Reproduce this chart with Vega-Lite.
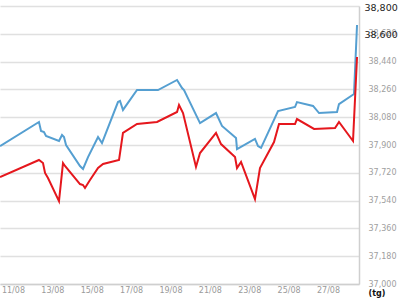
{
  "$schema": "https://vega.github.io/schema/vega-lite/v6.json",
  "width": 359,
  "height": 278,
  "autosize": {"type": "none"},
  "padding": {"left": 0, "top": 6, "right": 41, "bottom": 16},
  "background": "white",
  "config": {
    "view": {"stroke": null},
    "font": "DejaVu Sans",
    "axis": {"labelFont": "DejaVu Sans", "labelFontSize": 8}
  },
  "datasets": {
    "prices": [
      {"t": "2013-08-10T08:12", "series": "A", "v": 37893},
      {"t": "2013-08-12T07:42", "series": "A", "v": 38049},
      {"t": "2013-08-12T10:12", "series": "A", "v": 37991},
      {"t": "2013-08-12T13:48", "series": "A", "v": 37984},
      {"t": "2013-08-12T16:18", "series": "A", "v": 37958},
      {"t": "2013-08-13T08:06", "series": "A", "v": 37926},
      {"t": "2013-08-13T11:48", "series": "A", "v": 37965},
      {"t": "2013-08-13T14:12", "series": "A", "v": 37952},
      {"t": "2013-08-13T16:42", "series": "A", "v": 37900},
      {"t": "2013-08-14T09:42", "series": "A", "v": 37764},
      {"t": "2013-08-14T13:24", "series": "A", "v": 37745},
      {"t": "2013-08-14T19:30", "series": "A", "v": 37822},
      {"t": "2013-08-15T07:42", "series": "A", "v": 37952},
      {"t": "2013-08-15T12:30", "series": "A", "v": 37913},
      {"t": "2013-08-16T08:00", "series": "A", "v": 38178},
      {"t": "2013-08-16T10:30", "series": "A", "v": 38185},
      {"t": "2013-08-16T14:06", "series": "A", "v": 38127},
      {"t": "2013-08-17T07:12", "series": "A", "v": 38256},
      {"t": "2013-08-18T08:48", "series": "A", "v": 38256},
      {"t": "2013-08-19T08:00", "series": "A", "v": 38321},
      {"t": "2013-08-19T14:06", "series": "A", "v": 38269},
      {"t": "2013-08-19T16:30", "series": "A", "v": 38256},
      {"t": "2013-08-20T12:00", "series": "A", "v": 38042},
      {"t": "2013-08-21T07:30", "series": "A", "v": 38107},
      {"t": "2013-08-21T14:48", "series": "A", "v": 38023},
      {"t": "2013-08-22T07:54", "series": "A", "v": 37945},
      {"t": "2013-08-22T09:06", "series": "A", "v": 37874},
      {"t": "2013-08-23T07:00", "series": "A", "v": 37939},
      {"t": "2013-08-23T10:42", "series": "A", "v": 37893},
      {"t": "2013-08-23T14:24", "series": "A", "v": 37881},
      {"t": "2013-08-24T11:06", "series": "A", "v": 38120},
      {"t": "2013-08-25T07:48", "series": "A", "v": 38146},
      {"t": "2013-08-25T10:12", "series": "A", "v": 38178},
      {"t": "2013-08-26T05:48", "series": "A", "v": 38153},
      {"t": "2013-08-26T13:06", "series": "A", "v": 38107},
      {"t": "2013-08-27T11:00", "series": "A", "v": 38114},
      {"t": "2013-08-27T13:24", "series": "A", "v": 38165},
      {"t": "2013-08-28T07:42", "series": "A", "v": 38230},
      {"t": "2013-08-28T11:24", "series": "A", "v": 38677},
      {"t": "2013-08-10T08:12", "series": "B", "v": 37693},
      {"t": "2013-08-12T07:42", "series": "B", "v": 37803},
      {"t": "2013-08-12T12:36", "series": "B", "v": 37783},
      {"t": "2013-08-12T15:06", "series": "B", "v": 37719},
      {"t": "2013-08-12T18:42", "series": "B", "v": 37686},
      {"t": "2013-08-13T08:06", "series": "B", "v": 37537},
      {"t": "2013-08-13T13:00", "series": "B", "v": 37783},
      {"t": "2013-08-13T15:24", "series": "B", "v": 37764},
      {"t": "2013-08-14T09:42", "series": "B", "v": 37647},
      {"t": "2013-08-14T13:24", "series": "B", "v": 37641},
      {"t": "2013-08-14T15:48", "series": "B", "v": 37622},
      {"t": "2013-08-14T21:54", "series": "B", "v": 37673},
      {"t": "2013-08-15T07:42", "series": "B", "v": 37751},
      {"t": "2013-08-15T13:48", "series": "B", "v": 37777},
      {"t": "2013-08-16T09:18", "series": "B", "v": 37803},
      {"t": "2013-08-16T14:06", "series": "B", "v": 37978},
      {"t": "2013-08-17T07:12", "series": "B", "v": 38036},
      {"t": "2013-08-18T07:36", "series": "B", "v": 38049},
      {"t": "2013-08-19T08:00", "series": "B", "v": 38114},
      {"t": "2013-08-19T10:24", "series": "B", "v": 38159},
      {"t": "2013-08-19T15:18", "series": "B", "v": 38107},
      {"t": "2013-08-20T07:06", "series": "B", "v": 37758},
      {"t": "2013-08-20T12:00", "series": "B", "v": 37848},
      {"t": "2013-08-21T07:30", "series": "B", "v": 37978},
      {"t": "2013-08-21T13:36", "series": "B", "v": 37906},
      {"t": "2013-08-22T06:42", "series": "B", "v": 37822},
      {"t": "2013-08-22T09:06", "series": "B", "v": 37751},
      {"t": "2013-08-22T14:00", "series": "B", "v": 37790},
      {"t": "2013-08-23T07:00", "series": "B", "v": 37550},
      {"t": "2013-08-23T13:06", "series": "B", "v": 37751},
      {"t": "2013-08-24T06:12", "series": "B", "v": 37919},
      {"t": "2013-08-24T12:18", "series": "B", "v": 38036},
      {"t": "2013-08-25T07:48", "series": "B", "v": 38036},
      {"t": "2013-08-25T10:12", "series": "B", "v": 38068},
      {"t": "2013-08-26T07:00", "series": "B", "v": 38004},
      {"t": "2013-08-27T08:36", "series": "B", "v": 38010},
      {"t": "2013-08-27T13:24", "series": "B", "v": 38049},
      {"t": "2013-08-28T06:30", "series": "B", "v": 37926},
      {"t": "2013-08-28T11:24", "series": "B", "v": 38470}
    ]
  },
  "data": {"name": "prices"},
  "encoding": {
    "x": {
      "field": "t",
      "type": "temporal",
      "scale": {
        "domain": [
          {"year": 2013, "month": 8, "date": 10, "hours": 8, "minutes": 12},
          {"year": 2013, "month": 8, "date": 28, "hours": 13, "minutes": 48}
        ]
      },
      "axis": {
        "title": null,
        "format": "%d/%m",
        "values": [
          {"year": 2013, "month": 8, "date": 11},
          {"year": 2013, "month": 8, "date": 13},
          {"year": 2013, "month": 8, "date": 15},
          {"year": 2013, "month": 8, "date": 17},
          {"year": 2013, "month": 8, "date": 19},
          {"year": 2013, "month": 8, "date": 21},
          {"year": 2013, "month": 8, "date": 23},
          {"year": 2013, "month": 8, "date": 25},
          {"year": 2013, "month": 8, "date": 27}
        ],
        "grid": false,
        "ticks": false,
        "labelPadding": 2,
        "labelColor": "#9a9a9a",
        "labelFontSize": 8,
        "domain": true,
        "domainColor": "#cfcfcf",
        "domainWidth": 1.5
      }
    },
    "color": {
      "field": "series",
      "type": "nominal",
      "scale": {"domain": ["A", "B"], "range": ["#559fd1", "#e5171d"]},
      "legend": null
    }
  },
  "layer": [
    {
      "transform": [{"filter": "datum.series === 'A'"}],
      "mark": {"type": "line", "strokeWidth": 2},
      "encoding": {
        "y": {
          "field": "v",
          "type": "quantitative",
          "scale": {"domain": [37000, 38800], "nice": false, "zero": false},
          "axis": {
            "orient": "right",
            "title": null,
            "values": [37000, 37180, 37360, 37540, 37720, 37900, 38080, 38260, 38440, 38620, 38800],
            "labelExpr": "datum.value == 38800 ? '' : format(datum.value, ',')",
            "grid": true,
            "gridColor": "#e0e0e0",
            "gridWidth": 1.5,
            "ticks": false,
            "labelPadding": 9,
            "labelColor": "#a0a0a0",
            "labelFontSize": 8,
            "labelBaseline": "middle",
            "domain": true,
            "domainColor": "#cfcfcf",
            "domainWidth": 1.5
          }
        }
      }
    },
    {
      "transform": [{"filter": "datum.series === 'B'"}],
      "mark": {"type": "line", "strokeWidth": 2},
      "encoding": {
        "y": {
          "field": "v",
          "type": "quantitative",
          "scale": {"domain": [37000, 38800], "nice": false, "zero": false},
          "axis": {
            "orient": "right",
            "offset": 0,
            "title": "(tg)",
            "titleAngle": 0,
            "titleX": 9,
            "titleY": 287,
            "titleAlign": "left",
            "titleBaseline": "middle",
            "titleFontSize": 8,
            "titleFontWeight": "bold",
            "titleColor": "#111111",
            "values": [38620, 38800],
            "labelExpr": "datum.value == 38620 ? '38,600' : '38,800'",
            "grid": false,
            "ticks": false,
            "domain": false,
            "labelPadding": 5,
            "labelColor": "#222222",
            "labelFontSize": 9.5,
            "labelBaseline": "middle",
            "labelOffset": 1
          }
        }
      }
    }
  ],
  "resolve": {"scale": {"y": "independent"}}
}
